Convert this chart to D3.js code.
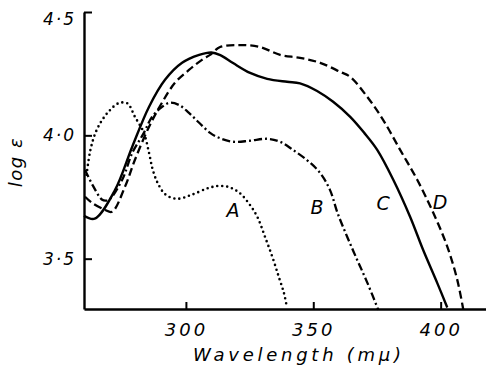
<!DOCTYPE html>
<html>
<head>
<meta charset="utf-8">
<script src="https://cdn.jsdelivr.net/npm/d3@7"></script>
<style>
  html, body { margin: 0; padding: 0; background: #fff; }
  svg { display: block; }
  text { font-family: "DejaVu Sans", sans-serif; font-style: italic; fill: #000; }
</style>
</head>
<body>
<svg id="chart" width="486" height="368"></svg>
<script>
// curve A (dotted)
const wlA = [261, 262.5, 264.5, 267, 270, 273.5, 277, 280, 283.5, 285.5, 287, 289, 292, 296.5, 302, 309, 313, 317, 321, 324.5, 328, 331, 334, 336.5, 338.5, 339.7];
const logA = [3.84, 3.94, 4.01, 4.06, 4.10, 4.13, 4.13, 4.075, 4.01, 3.93, 3.86, 3.805, 3.76, 3.743, 3.758, 3.787, 3.795, 3.79, 3.767, 3.727, 3.67, 3.59, 3.505, 3.425, 3.36, 3.30];

// curve B (dash-dot)
const wlB = [260.4, 263.5, 267, 268.5, 270, 275, 279, 283.5, 286.7, 290, 293.5, 297.3, 301.2, 305.2, 309.5, 313, 318.5, 325, 332, 337, 342, 347.5, 352.5, 356.5, 359.5, 363.3, 367.2, 371.2, 375.5];
const logB = [3.86, 3.796, 3.74, 3.735, 3.74, 3.82, 3.93, 4.01, 4.075, 4.11, 4.132, 4.123, 4.091, 4.051, 4.01, 3.99, 3.974, 3.978, 3.986, 3.974, 3.941, 3.90, 3.85, 3.78, 3.686, 3.589, 3.496, 3.403, 3.293];

// curve C (solid)
const wlC = [260, 264.2, 272.2, 278.9, 285.5, 291.8, 298.5, 305.2, 310, 313.5, 318.5, 325.2, 331.9, 339.7, 344.8, 351.5, 357.8, 364.5, 370, 375.1, 381.4, 388, 393.1, 398.6, 402.6];
const logC = [3.674, 3.662, 3.779, 3.953, 4.115, 4.225, 4.294, 4.326, 4.336, 4.325, 4.293, 4.253, 4.229, 4.217, 4.211, 4.18, 4.136, 4.075, 4.01, 3.941, 3.82, 3.67, 3.536, 3.403, 3.302];

// curve D (dashed)
const wlD = [260.4, 263.1, 268.2, 271, 276.1, 280, 285.5, 290.6, 295.7, 301.2, 306.3, 309.5, 313.4, 321.3, 329.1, 337, 344.8, 352.7, 360.6, 364.5, 371.2, 377.4, 384.1, 390.8, 397.1, 402.6, 406.5, 408.9];
const logD = [3.751, 3.727, 3.698, 3.69, 3.792, 3.901, 4.034, 4.132, 4.213, 4.265, 4.306, 4.326, 4.358, 4.366, 4.358, 4.326, 4.314, 4.294, 4.257, 4.237, 4.156, 4.063, 3.941, 3.82, 3.686, 3.549, 3.415, 3.293];

const xTicks = [300, 350, 400];
const yTicks = [3.5, 4.0, 4.5];
const yTickLabels = ['3·5', '4·0', '4·5'];

const curveNames = ['A', 'B', 'C', 'D'];
// where each letter sits (wavelength, log e of baseline)
const labelWl = [318.5, 351.5, 377.4, 399.8];
const labelLog = [3.67, 3.682, 3.698, 3.702];

const svg = d3.select('#chart');
const width = +svg.attr('width');
const height = +svg.attr('height');
const margin = { top: 12, right: 0, bottom: 59, left: 84 };

const x = d3.scaleLinear()
    .domain([260, 417.8])
    .range([margin.left, width - margin.right]);
const y = d3.scaleLinear()
    .domain([3.296, 4.5])
    .range([height - margin.bottom, margin.top]);

// axes, ticks pointing inward
const gx = svg.append('g')
    .attr('transform', `translate(0,${height - margin.bottom})`)
    .call(d3.axisBottom(x).tickValues(xTicks).tickSizeInner(-7).tickSizeOuter(0).tickPadding(14)
      .tickFormat(d3.format('d')));
const gy = svg.append('g')
    .attr('transform', `translate(${margin.left},0)`)
    .call(d3.axisLeft(y).tickValues(yTicks).tickSizeInner(-8).tickSizeOuter(0).tickPadding(8)
      .tickFormat((d, i) => yTickLabels[i]));

[gx, gy].forEach(g => {
  g.select('.domain').attr('stroke', '#000').attr('stroke-width', 2.4);
  g.selectAll('.tick line').attr('stroke', '#000').attr('stroke-width', 2);
  g.selectAll('.tick text')
      .attr('font-family', '"DejaVu Sans", sans-serif')
      .attr('font-style', 'italic')
      .attr('fill', '#000');
});
gx.selectAll('.tick text').attr('font-size', 18).style('letter-spacing', '3px');
gy.selectAll('.tick text').attr('font-size', 17).style('letter-spacing', '2px');
gy.selectAll('.tick').filter(d => d === 4.5).select('text').attr('dy', '0.75em');

// axis titles
svg.append('text')
    .attr('x', 297)
    .attr('y', 361)
    .attr('text-anchor', 'middle')
    .attr('font-size', 18)
    .attr('textLength', 208)
    .attr('lengthAdjust', 'spacing')
    .text('Wavelength (mμ)');
svg.append('text')
    .attr('transform', 'translate(22,162) rotate(-90)')
    .attr('text-anchor', 'middle')
    .attr('font-size', 18)
    .style('letter-spacing', '1.5px')
    .text('log ε');

const line = d3.line()
    .x(d => x(d[0]))
    .y(d => y(d[1]))
    .curve(d3.curveCatmullRom.alpha(0.5));

const series = [
  { wl: wlA, v: logA, dash: '0,5', w: 2.6, cap: 'round' },
  { wl: wlB, v: logB, dash: '8,3,2,3', w: 2.3, cap: 'butt' },
  { wl: wlC, v: logC, dash: null, w: 2.4, cap: 'butt' },
  { wl: wlD, v: logD, dash: '8,4', w: 2.3, cap: 'butt' }
];

svg.append('g')
  .selectAll('path')
    .data(series)
  .enter().append('path')
    .attr('d', s => line(s.wl.map((w, i) => [w, s.v[i]])))
    .attr('fill', 'none')
    .attr('stroke', '#000')
    .attr('stroke-width', s => s.w)
    .attr('stroke-linecap', s => s.cap)
    .attr('stroke-dasharray', s => s.dash);

svg.append('g')
  .selectAll('text')
    .data(curveNames)
  .enter().append('text')
    .attr('x', (d, i) => x(labelWl[i]))
    .attr('y', (d, i) => y(labelLog[i]))
    .attr('text-anchor', 'middle')
    .attr('font-size', 19)
    .text(d => d);
</script>
</body>
</html>
